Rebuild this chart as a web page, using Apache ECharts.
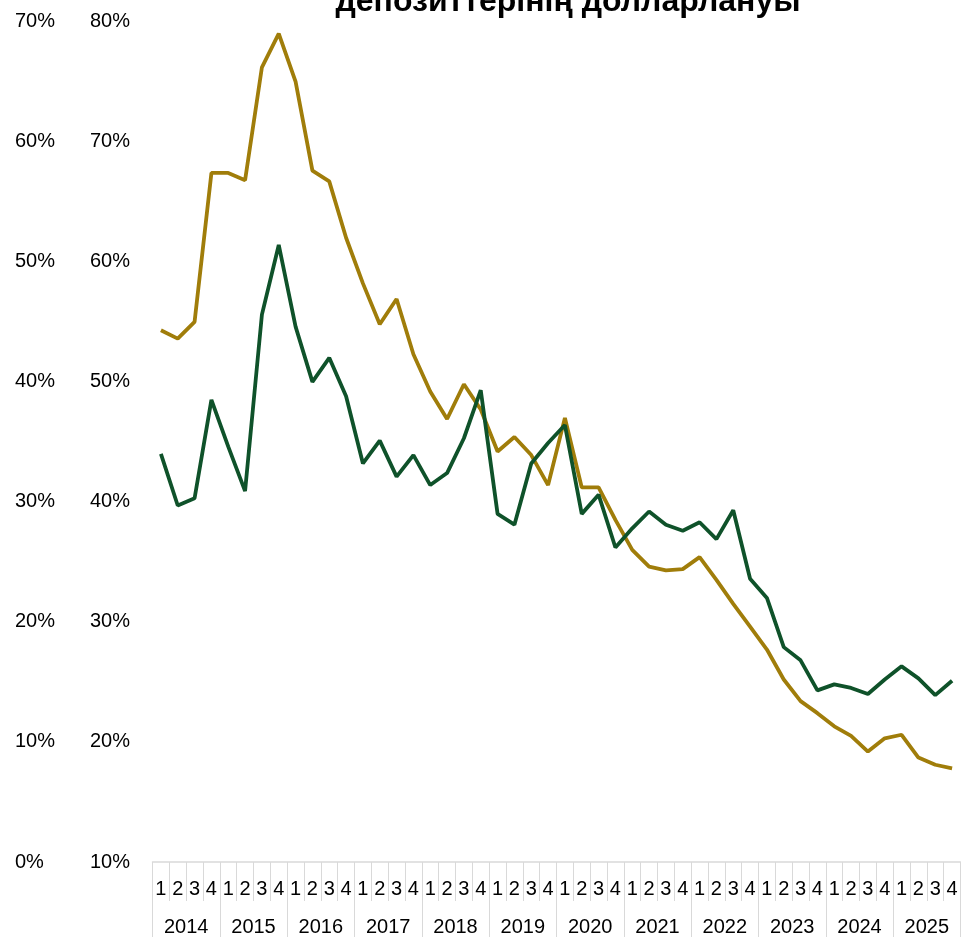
<!DOCTYPE html>
<html>
<head>
<meta charset="utf-8">
<script src="https://cdn.jsdelivr.net/npm/echarts@6/dist/echarts.min.js"></script>
<style>
  html, body { margin: 0; padding: 0; background: #ffffff; }
  #chart { width: 961px; height: 937px; }
</style>
</head>
<body>
<div id="chart"></div>
<script>
// Quarters and years for the two-level category axis
const quarters = ['1', '2', '3', '4'];
const years = ['2014', '2015', '2016', '2017', '2018', '2019', '2020', '2021', '2022', '2023', '2024', '2025'];

// Dollarization of deposits, % (gold series on the 10–80% scale)
const goldSeries = [
  54.3, 53.6, 55.0, 67.4, 67.4, 66.8, 76.2, 79.0,
  75.0, 67.6, 66.7, 62.0, 58.2, 54.8, 56.9, 52.3,
  49.2, 46.9, 49.8, 47.7, 44.2, 45.4, 43.9, 41.4,
  47.0, 41.2, 41.2, 38.5, 36.0, 34.6, 34.3, 34.4,
  35.4, 33.5, 31.5, 29.6, 27.7, 25.2, 23.4, 22.4,
  21.3, 20.5, 19.2, 20.3, 20.6, 18.7, 18.1, 17.8
];

// Dollarization of deposits, % (green series on the 0–70% scale)
const greenSeries = [
  34.0, 29.7, 30.3, 38.5, 34.6, 30.9, 45.6, 51.4,
  44.6, 40.0, 42.0, 38.8, 33.2, 35.1, 32.1, 33.9,
  31.4, 32.4, 35.3, 39.3, 29.0, 28.1, 33.2, 34.9,
  36.4, 29.0, 30.6, 26.2, 27.8, 29.2, 28.1, 27.6,
  28.3, 26.9, 29.3, 23.6, 22.0, 17.9, 16.8, 14.3,
  14.8, 14.5, 14.0, 15.2, 16.3, 15.3, 13.9, 15.1
];

const titleText = 'депозиттерінің долларлануы';

const quarterLabels = [];
years.forEach(() => quarters.forEach(q => quarterLabels.push(q)));

const FONT = "'Liberation Sans', Arial, sans-serif";
const GRID_LINE = '#d9d9d9';

const chart = echarts.init(document.getElementById('chart'), null, { renderer: 'canvas' });

chart.setOption({
  animation: false,
  backgroundColor: '#ffffff',
  graphic: [{
    type: 'text',
    x: 568,
    y: 2,
    style: {
      text: titleText,
      font: "bold 32px " + FONT,
      fill: '#000000',
      textAlign: 'center',
      textVerticalAlign: 'middle'
    }
  }],
  grid: { left: 152.5, right: 0.5, top: 21.7, bottom: 73.7, containLabel: false },
  xAxis: [
    {
      type: 'category',
      data: quarterLabels,
      position: 'bottom',
      boundaryGap: true,
      axisLine: { show: true, lineStyle: { color: GRID_LINE, width: 1.5 } },
      axisTick: { show: true, interval: 0, alignWithLabel: false, length: 39, lineStyle: { color: GRID_LINE, width: 1 } },
      axisLabel: { interval: 0, margin: 17, fontSize: 20, fontFamily: FONT, color: '#000000' },
      splitLine: { show: false }
    },
    {
      type: 'category',
      data: years,
      position: 'bottom',
      offset: 0,
      boundaryGap: true,
      axisLine: { show: false },
      axisTick: { show: true, interval: 0, alignWithLabel: false, length: 80, lineStyle: { color: GRID_LINE, width: 1 } },
      axisLabel: { interval: 0, margin: 55, fontSize: 20, fontFamily: FONT, color: '#000000' },
      splitLine: { show: false }
    }
  ],
  yAxis: [
    {
      type: 'value',
      min: 0, max: 70, interval: 10,
      position: 'left',
      axisLine: { show: false },
      axisTick: { show: false },
      splitLine: { show: false },
      axisLabel: { formatter: '{value}%', align: 'left', margin: 137.5, fontSize: 20, fontFamily: FONT, color: '#000000' }
    },
    {
      type: 'value',
      min: 10, max: 80, interval: 10,
      position: 'left',
      offset: 0,
      axisLine: { show: false },
      axisTick: { show: false },
      splitLine: { show: false },
      axisLabel: { formatter: '{value}%', align: 'left', margin: 62.5, fontSize: 20, fontFamily: FONT, color: '#000000' }
    }
  ],
  series: [
    {
      type: 'line',
      xAxisIndex: 0,
      yAxisIndex: 1,
      data: goldSeries,
      symbol: 'none',
      lineStyle: { color: '#A07D0A', width: 3.8 },
      z: 2
    },
    {
      type: 'line',
      xAxisIndex: 0,
      yAxisIndex: 0,
      data: greenSeries,
      symbol: 'none',
      lineStyle: { color: '#0F522A', width: 3.8 },
      z: 3
    }
  ]
});
</script>
</body>
</html>
